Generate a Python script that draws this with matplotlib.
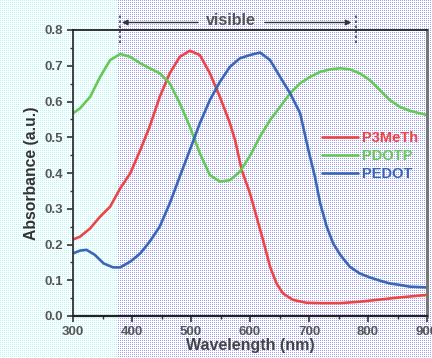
import numpy as np
import matplotlib
matplotlib.use("Agg")
import matplotlib.pyplot as plt

# ---------------- data ----------------
wl_red = [300, 312, 329, 346, 363, 380, 397, 414, 430, 447, 464, 481, 498, 515,
          532, 549, 566, 575, 586, 600, 611, 622, 634, 645, 656, 673, 696, 720,
          753, 786, 820, 854, 900]
p3meth = [0.214, 0.222, 0.245, 0.278, 0.306, 0.357, 0.399, 0.464, 0.530, 0.613,
          0.679, 0.725, 0.742, 0.730, 0.679, 0.613, 0.539, 0.490, 0.408, 0.343,
          0.278, 0.213, 0.138, 0.091, 0.063, 0.045, 0.037, 0.036, 0.036, 0.040,
          0.046, 0.052, 0.059]

wl_green = [300, 312, 329, 346, 363, 380, 397, 414, 430, 447, 464, 481, 498, 515,
            532, 549, 566, 583, 600, 617, 634, 651, 668, 685, 702, 719, 736, 753,
            769, 786, 803, 820, 837, 854, 871, 900]
pdotp = [0.567, 0.581, 0.613, 0.669, 0.716, 0.733, 0.725, 0.707, 0.693, 0.679,
         0.651, 0.595, 0.530, 0.455, 0.394, 0.376, 0.380, 0.404, 0.448, 0.502,
         0.548, 0.585, 0.623, 0.651, 0.669, 0.683, 0.690, 0.693, 0.690, 0.679,
         0.660, 0.632, 0.604, 0.585, 0.574, 0.562]

wl_blue = [300, 312, 323, 337, 352, 368, 380, 397, 414, 430, 447, 464, 481, 498,
           515, 532, 549, 566, 583, 600, 617, 634, 651, 668, 685, 699, 710, 719,
           730, 741, 753, 769, 786, 803, 820, 837, 854, 871, 900]
pedot = [0.175, 0.183, 0.185, 0.171, 0.147, 0.136, 0.136, 0.152, 0.175, 0.208,
         0.250, 0.315, 0.390, 0.464, 0.539, 0.604, 0.655, 0.697, 0.721, 0.730,
         0.737, 0.716, 0.669, 0.623, 0.567, 0.464, 0.390, 0.315, 0.250, 0.203,
         0.171, 0.138, 0.119, 0.108, 0.099, 0.091, 0.087, 0.082, 0.080]

series_names = ["P3MeTh", "PDOTP", "PEDOT"]
series_colors = ["#ee4444", "#66c955", "#3a66b8"]

x_ticks = [300, 400, 500, 600, 700, 800, 900]
x_ticklabels = ["300", "400", "500", "600", "700", "800", "900"]
y_ticks = [0.0, 0.1, 0.2, 0.3, 0.4, 0.5, 0.6, 0.7, 0.8]
y_ticklabels = ["0.0", "0.1", "0.2", "0.3", "0.4", "0.5", "0.6", "0.7", "0.8"]
visible_range = [380, 780]

# ---------------- figure ----------------
W, H = 432, 358
fig = plt.figure(figsize=(W / 100, H / 100), dpi=100)
fig.patch.set_facecolor("white")

# dithered background (cyan on the left, blue on the right)
bg = np.ones((H, W, 3))
rr, cc = np.mgrid[0:H, 0:W]
dots = (rr % 2 == 0) & (cc % 2 == 0)
left = cc < 117
bg[dots & left] = [0.70, 0.97, 0.98]
bg[dots & ~left] = [0.62, 0.62, 0.97]
fig.figimage(bg, xo=0, yo=0, origin="upper", zorder=-10)

ax = fig.add_axes([73 / W, 1 - 316 / H, (427 - 73) / W, (316 - 30) / H])
ax.set_facecolor("none")
ax.set_zorder(5)

font = "Liberation Sans"
for wl, vals, name, col in zip([wl_red, wl_green, wl_blue],
                               [p3meth, pdotp, pedot], series_names, series_colors):
    ax.plot(wl, vals, color=col, lw=1.9, label=name, solid_joinstyle="round",
            solid_capstyle="round")

ax.set_xlim(300, 900)
ax.set_ylim(0.0, 0.8)
ax.set_xticks(x_ticks)
ax.set_xticklabels(x_ticklabels)
ax.set_yticks(y_ticks)
ax.set_yticklabels(y_ticklabels)
ax.set_xticks(np.arange(350, 900, 100), minor=True)
ax.set_yticks(np.arange(0.05, 0.8, 0.1), minor=True)
ax.tick_params(which="major", direction="out", length=4, width=1.2, color="#333333",
               labelsize=9.5, labelcolor="#555555", pad=3)
ax.tick_params(which="minor", direction="out", length=2.5, width=1.0, color="#333333")
for lab in ax.get_xticklabels() + ax.get_yticklabels():
    lab.set_fontfamily(font)
    lab.set_fontweight("bold")

for side, c, w in [("left", "#333333", 1.3), ("bottom", "#222222", 1.6),
                   ("top", "#222222", 1.3), ("right", "#777777", 2.2)]:
    ax.spines[side].set_color(c)
    ax.spines[side].set_linewidth(w)

ax.set_xlabel("Wavelength (nm)", fontsize=11.5, family=font, fontweight="bold",
              color="#444444", labelpad=0)
ax.set_ylabel("Absorbance (a.u.)", fontsize=11.3, family=font, fontweight="bold",
              color="#333333", labelpad=4)

leg = ax.legend(loc="upper left", bbox_to_anchor=(0.686, 0.666), frameon=False,
                handlelength=2.5, handletextpad=0.25, labelspacing=0.25,
                borderaxespad=0.0,
                prop={"family": font, "weight": "bold", "size": 10.5})
for txt, col in zip(leg.get_texts(), series_colors):
    txt.set_color(col)

# "visible" annotation
for xv in visible_range:
    ax.plot([xv, xv], [0.764, 0.842], ls=(0, (1.5, 1.5)), color="#444444",
            lw=1.2, clip_on=False)
ax.text(568, 0.827, "visible", ha="center", va="center", fontsize=11.5,
        family=font, fontweight="bold", color="#555555")
ax.annotate("", xy=(383, 0.821), xytext=(512, 0.821), annotation_clip=False,
            arrowprops=dict(arrowstyle="-|>", color="#333333", lw=1.0,
                            mutation_scale=8, shrinkA=0, shrinkB=0))
ax.annotate("", xy=(772, 0.821), xytext=(625, 0.821), annotation_clip=False,
            arrowprops=dict(arrowstyle="-|>", color="#333333", lw=1.0,
                            mutation_scale=8, shrinkA=0, shrinkB=0))

fig.savefig("out.png", dpi=100)
